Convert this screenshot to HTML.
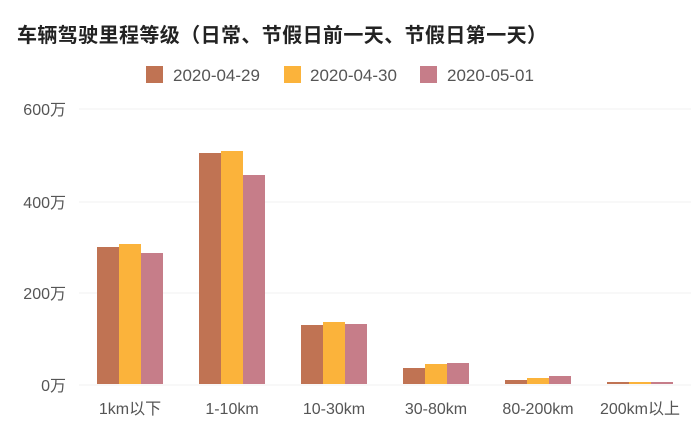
<!DOCTYPE html>
<html><head><meta charset="utf-8"><style>
body{margin:0;background:#fff;}
svg text{font-family:"Liberation Sans","Noto Sans CJK SC",sans-serif;}
</style></head><body>
<svg width="700" height="428" viewBox="0 0 700 428" xmlns="http://www.w3.org/2000/svg">
<rect width="700" height="428" fill="#fff"/>
<text x="17" y="42" font-size="20" font-weight="bold" fill="#222" letter-spacing="0.4">车辆驾驶里程等级（日常、节假日前一天、节假日第一天）</text>
<rect x="146" y="66" width="17" height="17" fill="#c07353"/>
<text x="173" y="81" font-size="17" fill="#555">2020-04-29</text>
<rect x="284" y="66" width="17" height="17" fill="#fbb33b"/>
<text x="310" y="81" font-size="17" fill="#555">2020-04-30</text>
<rect x="420" y="66" width="17" height="17" fill="#c67d89"/>
<text x="447" y="81" font-size="17" fill="#555">2020-05-01</text>
<g stroke="#f2f2f2" stroke-width="1">
<line x1="79" x2="691" y1="109" y2="109"/><line x1="79" x2="691" y1="202" y2="202"/>
<line x1="79" x2="691" y1="293" y2="293"/><line x1="79" x2="691" y1="385" y2="385"/>
</g>
<g font-size="16" fill="#555" text-anchor="end">
<text x="66" y="115">600万</text><text x="66" y="208">400万</text>
<text x="66" y="299">200万</text><text x="66" y="391">0万</text>
</g>
<g>
<rect x="97" y="247" width="22" height="137" fill="#c07353"/><rect x="119" y="244" width="22" height="140" fill="#fbb33b"/><rect x="141" y="253" width="22" height="131" fill="#c67d89"/>
<rect x="199" y="153" width="22" height="231" fill="#c07353"/><rect x="221" y="151" width="22" height="233" fill="#fbb33b"/><rect x="243" y="175" width="22" height="209" fill="#c67d89"/>
<rect x="301" y="325" width="22" height="59" fill="#c07353"/><rect x="323" y="322" width="22" height="62" fill="#fbb33b"/><rect x="345" y="324" width="22" height="60" fill="#c67d89"/>
<rect x="403" y="368" width="22" height="16" fill="#c07353"/><rect x="425" y="364" width="22" height="20" fill="#fbb33b"/><rect x="447" y="363" width="22" height="21" fill="#c67d89"/>
<rect x="505" y="380" width="22" height="4" fill="#c07353"/><rect x="527" y="378" width="22" height="6" fill="#fbb33b"/><rect x="549" y="376" width="22" height="8" fill="#c67d89"/>
<rect x="607" y="382" width="22" height="2" fill="#c07353"/><rect x="629" y="382" width="22" height="2" fill="#fbb33b"/><rect x="651" y="382" width="22" height="2" fill="#c67d89"/>
</g>
<g font-size="16" fill="#555" text-anchor="middle">
<text x="130" y="414">1km以下</text><text x="232" y="414">1-10km</text><text x="334" y="414">10-30km</text>
<text x="436" y="414">30-80km</text><text x="538" y="414">80-200km</text><text x="640" y="414">200km以上</text>
</g>
</svg>
</body></html>
